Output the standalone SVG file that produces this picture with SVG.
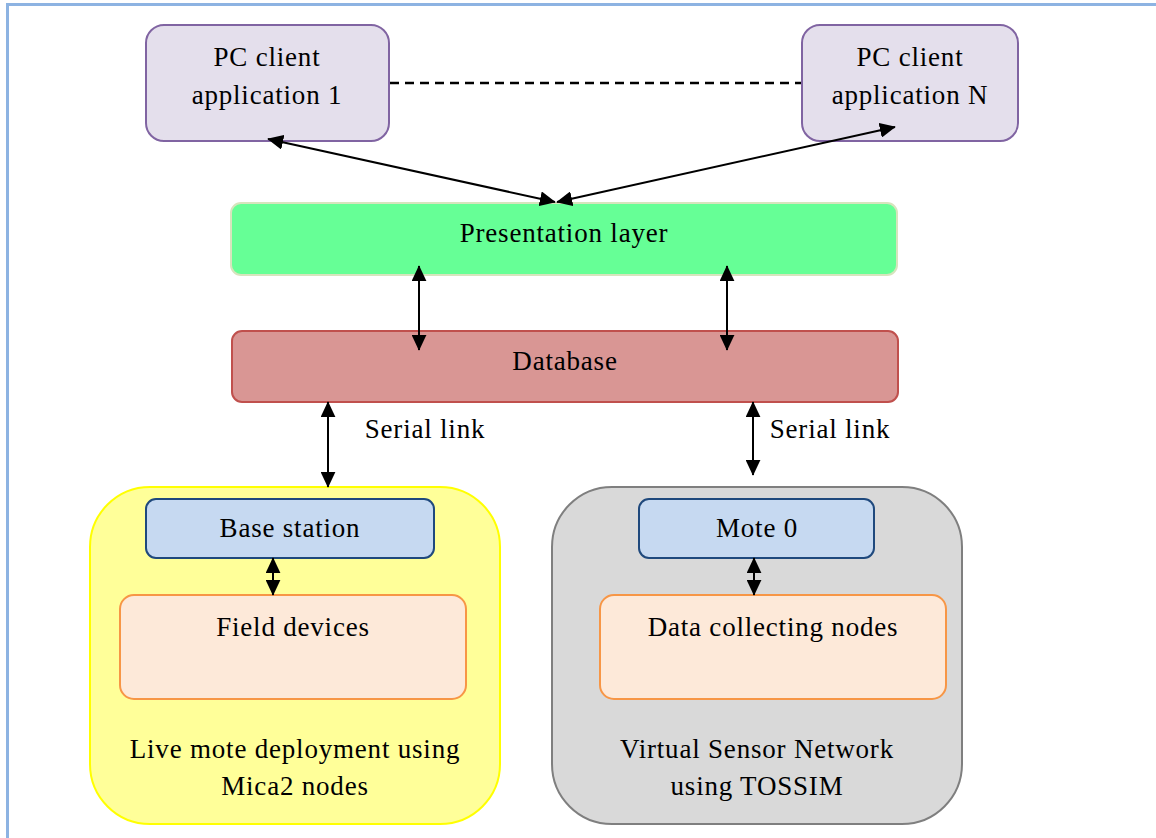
<svg xmlns="http://www.w3.org/2000/svg" width="1156" height="838" viewBox="0 0 1156 838">
  <defs>
    <style>
      text { font-family: "Liberation Serif", "DejaVu Serif", serif; font-size: 27px; letter-spacing: 0.8px; fill: #000; text-anchor: middle; }
      .client { fill: #e4dfec; stroke: #8064a2; stroke-width: 2; }
      .present { fill: #66ff96; stroke: #d7e4bd; stroke-width: 2; }
      .db { fill: #d99694; stroke: #c0504d; stroke-width: 2; }
      .live { fill: #ffff99; stroke: #ffff00; stroke-width: 2; }
      .virtual { fill: #d9d9d9; stroke: #7f7f7f; stroke-width: 2; }
      .mote { fill: #c6d9f1; stroke: #1f497d; stroke-width: 2; }
      .field { fill: #fde9d9; stroke: #f79646; stroke-width: 2; }
      .link { stroke: #000; stroke-width: 2; fill: none; marker-start: url(#head); marker-end: url(#head); }
      .dash { stroke: #000; stroke-width: 2.5; fill: none; stroke-dasharray: 9 6; }
    </style>
    <marker id="head" viewBox="0 0 10 10" refX="9.5" refY="5" markerWidth="8" markerHeight="7.5" orient="auto-start-reverse" markerUnits="strokeWidth" preserveAspectRatio="none">
      <path d="M0,0 L10,5 L0,10 Z" fill="#000"/>
    </marker>
  </defs>

  <rect width="1156" height="838" fill="#fff"/>
  <!-- outer frame -->
  <rect x="7.5" y="4.5" width="1160" height="850" fill="none" stroke="#8db3e2" stroke-width="3"/>

  <g id="client-1">
    <rect class="client" x="146" y="25" width="243" height="116" rx="18"/>
    <text x="267" y="66">PC client</text>
    <text x="267" y="104">application 1</text>
  </g>
  <g id="client-n">
    <rect class="client" x="802" y="25" width="216" height="116" rx="18"/>
    <text x="910" y="66">PC client</text>
    <text x="910" y="104">application N</text>
  </g>
  <g id="presentation">
    <rect class="present" x="231" y="203" width="666" height="72" rx="10"/>
    <text x="564" y="242">Presentation layer</text>
  </g>
  <g id="database">
    <rect class="db" x="232" y="331" width="666" height="71" rx="10"/>
    <text x="565" y="370">Database</text>
  </g>
  <g id="live-deployment">
    <rect class="live" x="90" y="487" width="410" height="337" rx="60"/>
    <text x="295" y="758">Live mote deployment using</text>
    <text x="295" y="795">Mica2 nodes</text>
  </g>
  <g id="virtual-network">
    <rect class="virtual" x="552" y="487" width="410" height="337" rx="60"/>
    <text x="757" y="758">Virtual Sensor Network</text>
    <text x="757" y="795">using TOSSIM</text>
  </g>
  <g id="base-station">
    <rect class="mote" x="146" y="499" width="288" height="59" rx="10"/>
    <text x="290" y="537">Base station</text>
  </g>
  <g id="field-devices">
    <rect class="field" x="120" y="595" width="346" height="104" rx="14"/>
    <text x="293" y="636">Field devices</text>
  </g>
  <g id="mote-0">
    <rect class="mote" x="639" y="499" width="235" height="59" rx="10"/>
    <text x="757" y="537">Mote 0</text>
  </g>
  <g id="data-nodes">
    <rect class="field" x="600" y="595" width="346" height="104" rx="14"/>
    <text x="773" y="636">Data collecting nodes</text>
  </g>

  <g id="connectors">
    <line class="dash" x1="390" y1="83" x2="801" y2="83"/>
    <line class="link" x1="268" y1="139" x2="555" y2="202"/>
    <line class="link" x1="895" y1="127" x2="557" y2="202"/>
    <line class="link" x1="419" y1="266" x2="419" y2="350"/>
    <line class="link" x1="727" y1="266" x2="727" y2="350"/>
    <line class="link" x1="328" y1="402" x2="328" y2="487"/>
    <line class="link" x1="753" y1="402" x2="753" y2="475"/>
    <line class="link" x1="273" y1="558" x2="273" y2="595"/>
    <line class="link" x1="754" y1="558" x2="754" y2="595"/>
    <text x="425" y="438">Serial link</text>
    <text x="830" y="438">Serial link</text>
  </g>
</svg>
